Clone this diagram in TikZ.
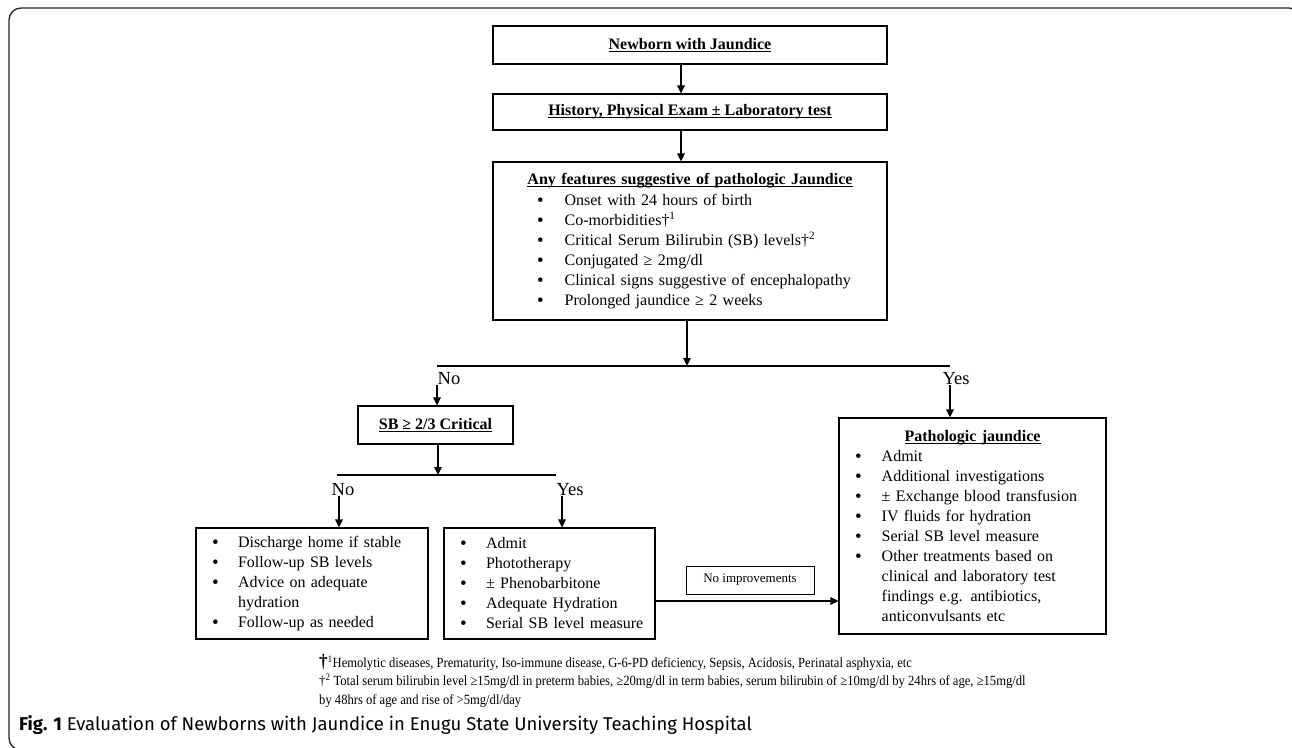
\documentclass[tikz,border=0pt]{standalone}
\usepackage{fontspec}
\setmainfont{Liberation Serif}
\newfontfamily\capfont{Fira Sans}
\newfontfamily\fnfont[FakeStretch=0.9]{Liberation Serif}
\usetikzlibrary{arrows.meta}
\newcommand\ulbox[1]{\setbox0\hbox{#1}\rlap{\rule[-2.6pt]{\wd0}{1.1pt}}\box0}
\newcommand\bitem[2]{\makebox[#1][l]{\raisebox{-0.8pt}{\fontsize{19}{20}\selectfont\textbullet}}#2}
\begin{document}
\begin{tikzpicture}[x=1pt,y=-1pt,
  box/.style={draw, line width=1.1pt, inner sep=0pt, font=\fontsize{16}{20}\selectfont},
  lab/.style={inner sep=0pt, font=\fontsize{18.5}{20}\selectfont},
  arr/.style={line width=1.1pt, -{Triangle[length=8pt,width=7.5pt]}},
  ln/.style={line width=1.1pt}]
\useasboundingbox (0,0) rectangle (1292,747);
\clip (0,0) rectangle (1292,747);
\fill[white] (0,0) rectangle (1292,747);
\draw[line width=1.3pt, rounded corners=12pt, black!85] (9,8) rectangle (1301,750);

\node[box, minimum width=394pt, minimum height=38pt] (n1) at (690,45) {\bfseries\ulbox{Newborn with Jaundice}};
\node[box, minimum width=394pt, minimum height=36pt] (n2) at (690,112) {\bfseries\ulbox{History, Physical Exam ± Laboratory test}};
\node[box, minimum width=394pt, minimum height=158pt, text width=394pt, align=left] (n3) at (690,241)
 {\makebox[394pt]{\bfseries\ulbox{Any features suggestive of pathologic Jaundice}}\\[1.5pt]
  \hspace*{44pt}\bitem{27.6pt}{Onset with 24 hours of birth}\\
  \hspace*{44pt}\bitem{27.6pt}{Co-morbidities†\textsuperscript{1}}\\
  \hspace*{44pt}\bitem{27.6pt}{Critical Serum Bilirubin (SB) levels†\textsuperscript{2}}\\
  \hspace*{44pt}\bitem{27.6pt}{Conjugated ≥ 2mg/dl}\\
  \hspace*{44pt}\bitem{27.6pt}{Clinical signs suggestive of encephalopathy}\\
  \hspace*{44pt}\bitem{27.6pt}{Prolonged jaundice ≥ 2 weeks}};

\coordinate (a1) at (681,0);
\draw[arr] (a1 |- n1.south) -- (a1 |- n2.north);
\draw[arr] (a1 |- n2.south) -- (a1 |- n3.north);

\coordinate (s1l) at (437,366);
\coordinate (s1r) at (950,366);
\coordinate (s1m) at (687,366);
\draw[arr] (s1m |- n3.south) -- (s1m);
\draw[ln] (s1l) -- (s1r);
\node[lab] (no1) at (449,379) {No};
\node[lab] (yes1) at (956,379) {Yes};

\node[box, minimum width=155pt, minimum height=38pt] (sb) at (435.5,425) {\bfseries\ulbox{SB ≥ 2/3 Critical}};
\node[box, minimum width=267pt, minimum height=216pt, text width=267pt, align=left] (patho) at (972.5,526)
 {\makebox[267pt]{\bfseries\ulbox{Pathologic jaundice}}\\
  \hspace*{16pt}\bitem{26.7pt}{Admit}\\
  \hspace*{16pt}\bitem{26.7pt}{Additional investigations}\\
  \hspace*{16pt}\bitem{26.7pt}{± Exchange blood transfusion}\\
  \hspace*{16pt}\bitem{26.7pt}{IV fluids for hydration}\\
  \hspace*{16pt}\bitem{26.7pt}{Serial SB level measure}\\
  \hspace*{16pt}\bitem{26.7pt}{Other treatments based on}\\
  \hspace*{42.7pt}clinical and laboratory test\\
  \hspace*{42.7pt}findings e.g. antibiotics,\\
  \hspace*{42.7pt}anticonvulsants etc};

\draw[arr] (no1.south -| s1l) -- (s1l |- sb.north);
\draw[arr] (yes1.south -| s1r) -- (s1r |- patho.north);

\coordinate (s2l) at (337,475);
\coordinate (s2r) at (556,475);
\coordinate (s2m) at (438,475);
\draw[arr] (s2m |- sb.south) -- (s2m);
\draw[ln] (s2l) -- (s2r);
\node[lab] (no2) at (343,490) {No};
\node[lab] (yes2) at (570,490) {Yes};

\node[box, minimum width=232pt, minimum height=111pt, text width=232pt, align=left] (lb) at (312,583.5)
 {\hspace*{16pt}\bitem{26pt}{Discharge home if stable}\\
  \hspace*{16pt}\bitem{26pt}{Follow-up SB levels}\\
  \hspace*{16pt}\bitem{26pt}{Advice on adequate}\\
  \hspace*{42pt}hydration\\
  \hspace*{16pt}\bitem{26pt}{Follow-up as needed}};
\node[box, minimum width=211pt, minimum height=111pt, text width=211pt, align=left] (mb) at (549.5,583.5)
 {\hspace*{16pt}\bitem{26pt}{Admit}\\
  \hspace*{16pt}\bitem{26pt}{Phototherapy}\\
  \hspace*{16pt}\bitem{26pt}{± Phenobarbitone}\\
  \hspace*{16pt}\bitem{26pt}{Adequate Hydration}\\
  \hspace*{16pt}\bitem{26pt}{Serial SB level measure}};

\coordinate (a2l) at (339,0);
\coordinate (a2r) at (562,0);
\draw[arr] (a2l |- no2.south) -- (a2l |- lb.north);
\draw[arr] (a2r |- yes2.south) -- (a2r |- mb.north);

\node[box, line width=0.9pt, minimum width=128pt, minimum height=28pt, font=\fontsize{13}{16}\selectfont] (ni) at (750,580) {No improvements};
\coordinate (ar) at (0,601);
\draw[arr] (mb.east |- ar) -- (patho.west |- ar);

\node[anchor=north west, inner sep=0pt, align=left, font=\fnfont\fontsize{14}{18.5}\selectfont] (fn) at (319,654)
 {{\fontsize{19}{18}\selectfont\textbf{†}}\textsuperscript{1}Hemolytic diseases, Prematurity, Iso-immune disease, G-6-PD deficiency, Sepsis, Acidosis, Perinatal asphyxia, etc\\
  †\textsuperscript{2} Total serum bilirubin level ≥15mg/dl in preterm babies, ≥20mg/dl in term babies, serum bilirubin of ≥10mg/dl by 24hrs of age, ≥15mg/dl\\
  by 48hrs of age and rise of >5mg/dl/day};

\node[anchor=west, inner sep=0pt, font=\capfont\fontsize{18.5}{22}\selectfont] (cap) at (19,725)
 {\textbf{Fig. 1} Evaluation of Newborns with Jaundice in Enugu State University Teaching Hospital};
\end{tikzpicture}
\end{document}
